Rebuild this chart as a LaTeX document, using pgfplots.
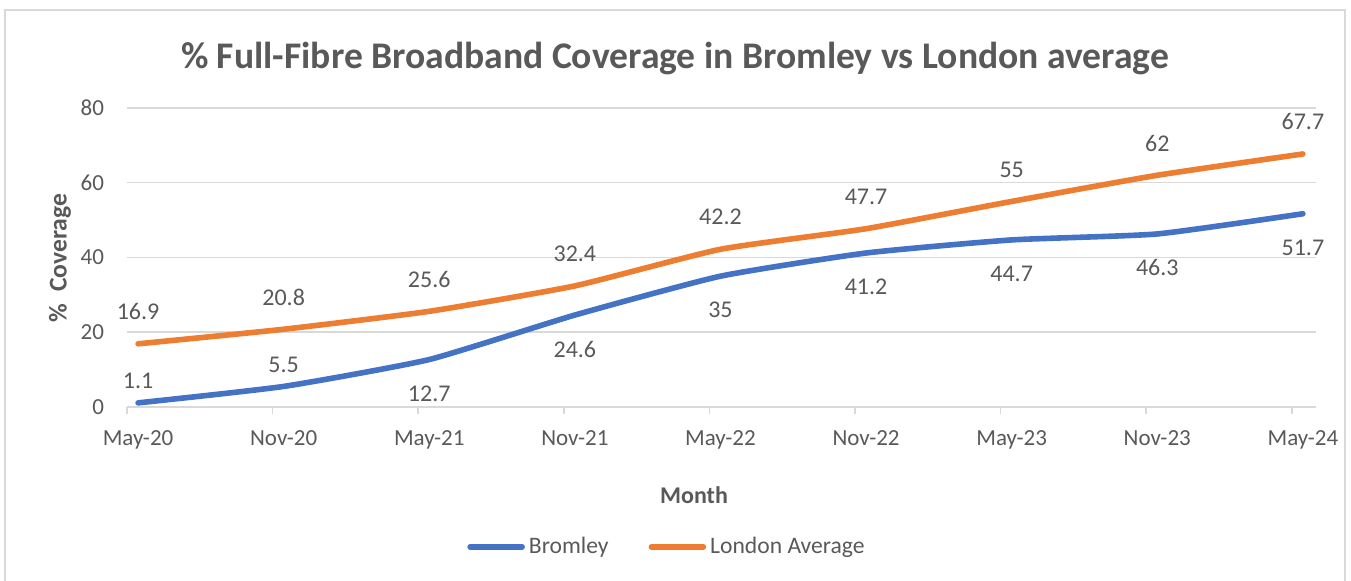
\documentclass[border=0pt]{standalone}
\usepackage{fontspec}
\setmainfont{Carlito}
\usepackage{pgfplots}
\pgfplotsset{compat=1.18}
\definecolor{bromley}{HTML}{4472C4}
\definecolor{london}{HTML}{ED7D31}
\definecolor{txt}{HTML}{595959}
\definecolor{gridc}{HTML}{D9D9D9}
\definecolor{framec}{HTML}{D9D9D9}

\begin{document}
\begin{tikzpicture}
  % 1 px of the reference = 0.5pt
  \useasboundingbox (0,0) rectangle (675.5pt,290.5pt);
  \draw[framec, line width=0.6pt] (2.5pt,-5pt) -- (2.5pt,285.5pt) -- (672.5pt,285.5pt) -- (672.5pt,-5pt);

  \node[text=txt, font=\fontsize{18.8}{22}\selectfont\bfseries] at (337.5pt,261pt)
    {\% Full-Fibre Broadband Coverage in Bromley vs London average};
  \node[text=txt, font=\fontsize{12}{14}\selectfont\bfseries] at (347pt,43pt) {Month};
  \node[text=txt, font=\fontsize{12.8}{14}\selectfont\bfseries, rotate=90] at (30pt,161.5pt) {\%\ \ Coverage};

  \begin{axis}[
    at={(63.5pt,87pt)}, anchor=south west,
    scale only axis,
    width=594.5pt, height=149.5pt,
    xmin=-0.076, xmax=8.09,
    ymin=0, ymax=80,
    xtick={0,...,8},
    xticklabels={May-20,Nov-20,May-21,Nov-21,May-22,Nov-22,May-23,Nov-23,May-24},
    ytick={0,20,...,80},
    ymajorgrids=true,
    grid style={gridc, line width=0.75pt},
    axis x line*=bottom,
    axis y line*=left,
    x axis line style={gridc, line width=0.75pt, -},
    y axis line style={draw=none},
    tick align=outside,
    major tick length=3.5pt,
    xtick style={draw=none},
    ytick style={draw=none},
    extra x ticks={-0.076,0.924,1.924,2.924,3.924,4.924,5.924,6.924,7.924},
    extra x tick labels={},
    extra x tick style={grid=none, xtick style={draw=gridc, line width=0.75pt}},
    tick label style={text=txt, font=\fontsize{11.5}{13}\selectfont},
    /pgf/number format/assume math mode=true,
    yticklabel style={xshift=-4.5pt},
    xticklabel style={yshift=-5pt},
    legend style={at={(0.455,-0.468)}, anchor=center, draw=none, fill=none,
      legend columns=2, font=\fontsize{11.8}{13}\selectfont, text=txt,
      /tikz/every even column/.append style={column sep=18pt}},
    legend cell align=left,
    legend image code/.code={\draw[#1, line cap=round] (0pt,0pt) -- (26pt,0pt);},
  ]
    \addplot[bromley, line width=2.8pt, line cap=round, line join=round, smooth, tension=0.3]
      coordinates {(0,1.1)(1,5.5)(2,12.7)(3,24.6)(4,35)(5,41.2)(6,44.7)(7,46.3)(8,51.7)};
    \addlegendentry{Bromley}
    \addplot[london, line width=2.8pt, line cap=round, line join=round, smooth, tension=0.3]
      coordinates {(0,16.9)(1,20.8)(2,25.6)(3,32.4)(4,42.2)(5,47.7)(6,55)(7,62)(8,67.7)};
    \addlegendentry{London Average}

    % data labels
    \addplot[forget plot, draw=none, nodes near coords, point meta=explicit symbolic,
      every node near coord/.style={anchor=center, yshift=11pt, text=txt, font=\fontsize{12}{14}\selectfont}]
      table[meta=l] {
        x y l
        0 1.1 1.1
        1 5.5 5.5
      };
    \addplot[forget plot, draw=none, nodes near coords, point meta=explicit symbolic,
      every node near coord/.style={anchor=center, yshift=-17pt, text=txt, font=\fontsize{12}{14}\selectfont}]
      table[meta=l] {
        x y l
        2 12.7 12.7
        3 24.6 24.6
        4 35 35
        5 41.2 41.2
        6 44.7 44.7
        7 46.3 46.3
        8 51.7 51.7
      };
    \addplot[forget plot, draw=none, nodes near coords, point meta=explicit symbolic,
      every node near coord/.style={anchor=center, yshift=16pt, text=txt, font=\fontsize{12}{14}\selectfont}]
      table[meta=l] {
        x y l
        0 16.9 16.9
        1 20.8 20.8
        2 25.6 25.6
        3 32.4 32.4
        4 42.2 42.2
        5 47.7 47.7
        6 55 55
        7 62 62
        8 67.7 67.7
      };
  \end{axis}
\end{tikzpicture}
\end{document}
